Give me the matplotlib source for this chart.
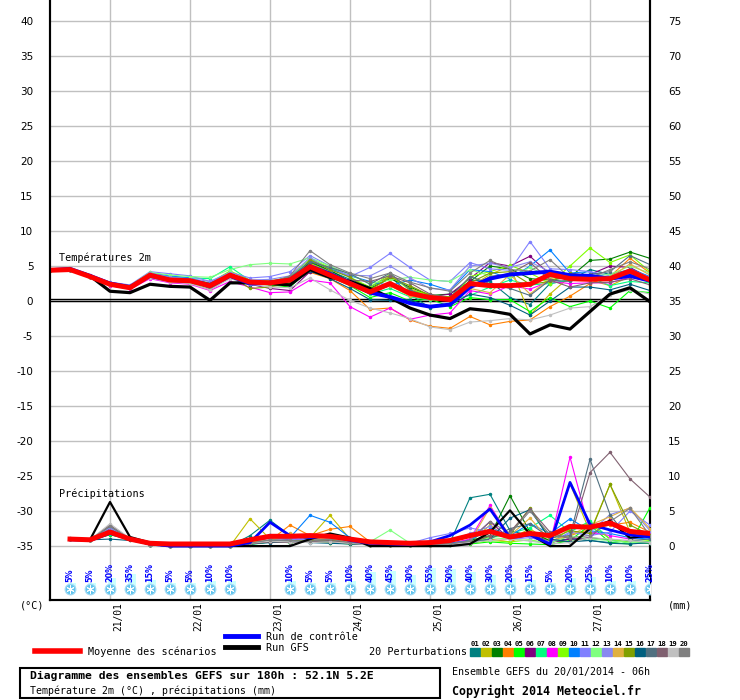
import numpy as np
import pandas as pd
import matplotlib
matplotlib.use('Agg')
import matplotlib.pyplot as plt
import matplotlib.transforms as mtransforms
from matplotlib.patches import Rectangle
from matplotlib.lines import Line2D

plt.rcParams['axes.unicode_minus'] = False

# echeances toutes les 6h depuis le 20/01/2014 06h
times = pd.date_range('2014-01-20 06:00', periods=31, freq='6h')
day_ticks = pd.date_range('2014-01-21', '2014-01-27', freq='D')
day_labels = ['21/01', '22/01', '23/01', '24/01', '25/01', '26/01', '27/01']

# temperatures 2m (°C)
temp_mean = [4.4, 4.5, 3.5, 2.4, 1.9, 3.7, 3.0, 2.9, 2.2, 3.7, 2.7, 2.6, 3.0, 4.9, 3.7,
             2.5, 1.3, 2.5, 1.1, 0.5, 0.2, 2.5, 2.2, 2.2, 2.4, 3.8, 3.2, 3.1, 3.2, 4.3, 3.0]
temp_gfs = [4.4, 4.5, 3.6, 1.4, 1.2, 2.4, 2.1, 2.0, 0.1, 2.6, 2.6, 2.5, 2.3, 4.5, 3.4,
            2.8, 1.8, 0.5, -1.0, -2.0, -2.5, -1.1, -1.4, -1.9, -4.7, -3.4, -4.0, -1.5, 1.0, 1.9, -0.1]
temp_ctrl = [4.4, 4.6, 3.6, 2.5, 2.0, 3.6, 3.0, 2.9, 2.3, 3.6, 2.5, 2.6, 3.0, 5.0, 3.9,
             2.6, 1.2, 0.6, -0.3, -0.8, -0.5, 2.0, 3.2, 3.8, 4.0, 4.2, 3.7, 3.6, 3.2, 3.6, 2.9]

t01 = [4.4, 4.5, 3.6, 2.6, 2.1, 3.9, 3.4, 3.2, 2.5, 3.9, 2.8, 2.4, 2.9, 5.5, 4.3, 3.1, 2.0, 3.5, 1.0, -1.0, -0.5, 3.0, 2.8, 0.5, -0.5, 2.5, 3.0, 4.5, 3.8, 4.5, 3.0]
t02 = [4.3, 4.5, 3.5, 2.3, 2.0, 3.4, 2.8, 2.6, 1.6, 3.4, 2.7, 3.0, 2.9, 5.4, 4.2, 2.6, 1.6, 3.6, 1.8, 0.6, 0.6, 2.0, 3.8, 5.0, -2.0, 1.0, 3.5, 3.0, 2.2, 3.5, 3.3]
t03 = [4.4, 4.5, 3.4, 2.4, 2.0, 3.6, 3.1, 2.8, 2.0, 3.8, 2.6, 2.4, 2.6, 5.6, 4.4, 2.8, 1.8, 3.2, 2.0, 0.8, 1.0, 2.8, 5.0, 4.6, 3.2, 3.0, 3.4, 5.8, 6.0, 7.0, 6.1]
t04 = [4.4, 4.4, 3.4, 2.2, 1.8, 3.5, 2.9, 2.7, 2.1, 3.4, 2.8, 2.6, 2.6, 4.1, 3.2, 1.5, -1.2, -1.0, -2.7, -3.6, -3.9, -2.2, -3.4, -2.9, -2.7, -0.8, 0.7, 2.5, 3.5, 6.1, 4.0]
t05 = [4.4, 4.5, 3.5, 2.5, 2.0, 3.7, 3.2, 3.0, 2.3, 4.0, 2.5, 2.3, 2.0, 4.6, 3.5, 2.2, 0.5, 1.2, 0.0, 0.3, -0.8, 0.5, 0.2, 0.2, -1.5, 0.5, -0.8, 0.0, -1.0, 1.5, 1.2]
t06 = [4.4, 4.5, 3.5, 2.3, 1.9, 3.6, 2.9, 2.8, 1.8, 3.3, 2.4, 1.8, 1.5, 4.2, 3.5, 2.4, 1.2, 2.2, 1.5, 0.6, 1.0, 3.2, 5.5, 5.0, 6.4, 3.8, 3.2, 3.8, 5.0, 4.8, 3.3]
t07 = [4.4, 4.5, 3.6, 2.5, 2.1, 3.8, 3.5, 3.3, 3.2, 4.9, 2.9, 2.8, 3.0, 4.8, 4.0, 2.5, 1.0, 1.8, 0.6, 0.2, 0.2, 0.8, 2.0, 3.0, 2.3, 2.5, 3.0, 3.4, 2.2, 2.8, 2.6]
t08 = [4.4, 4.4, 3.4, 2.2, 1.7, 3.2, 2.6, 2.4, 1.5, 2.8, 2.0, 1.2, 1.3, 3.0, 2.6, -0.8, -2.3, -1.0, -2.6, -2.0, -1.7, 1.5, 1.0, 2.2, 1.7, 2.8, 2.5, 2.6, 2.6, 3.4, 2.8]
t09 = [4.4, 4.5, 3.5, 2.4, 2.0, 3.8, 3.3, 3.1, 2.6, 4.3, 3.0, 2.8, 3.5, 6.0, 4.8, 3.4, 2.0, 3.8, 1.5, 1.0, 0.0, 3.5, 4.2, 5.1, 4.0, 2.5, 5.0, 7.6, 5.5, 6.6, 4.2]
t10 = [4.4, 4.5, 3.6, 2.5, 2.1, 4.0, 3.6, 3.3, 2.4, 3.9, 2.9, 2.7, 3.2, 5.8, 4.6, 3.6, 2.8, 2.2, 3.0, 2.4, 1.5, 4.5, 4.2, 3.2, 5.0, 7.3, 4.0, 4.2, 3.2, 4.6, 3.5]
t11 = [4.4, 4.6, 3.7, 2.7, 2.3, 4.2, 3.9, 3.6, 2.8, 4.1, 3.3, 3.5, 4.2, 6.5, 5.0, 3.5, 4.8, 6.8, 4.8, 3.0, 2.8, 5.5, 4.6, 4.4, 8.5, 4.6, 4.5, 4.2, 3.6, 4.5, 3.4]
t12 = [4.4, 4.5, 3.6, 2.6, 2.2, 4.1, 3.7, 3.5, 3.4, 4.5, 5.2, 5.4, 5.3, 6.2, 5.0, 3.8, 2.5, 3.0, 3.4, 3.0, 2.8, 4.5, 3.6, 3.4, 4.8, 3.4, 3.6, 3.6, 3.8, 5.0, 4.0]
t13 = [4.4, 4.5, 3.6, 2.6, 2.1, 4.0, 3.4, 3.2, 2.8, 3.6, 3.0, 3.1, 3.6, 6.2, 4.4, 3.7, 3.6, 5.0, 3.3, 1.8, 1.6, 5.0, 5.4, 4.8, 5.6, 4.2, 3.5, 3.0, 3.0, 3.6, 3.2]
t14 = [4.4, 4.5, 3.5, 2.4, 2.0, 3.5, 2.9, 2.8, 2.0, 3.5, 2.5, 2.4, 2.7, 4.4, 3.4, 2.3, 1.4, 2.2, 0.7, 0.3, 0.2, 1.8, 1.2, 3.8, 1.0, 3.2, 3.7, 3.3, 3.4, 5.3, 3.7]
t15 = [4.4, 4.5, 3.5, 2.3, 1.9, 3.6, 3.0, 2.9, 2.3, 3.6, 1.8, 2.0, 2.6, 5.9, 4.5, 3.4, 1.6, 3.4, 2.2, 0.8, 0.6, 2.6, 4.0, 4.2, 2.4, 2.8, 4.0, 3.6, 3.0, 4.0, 3.2]
t16 = [4.4, 4.5, 3.5, 2.4, 1.9, 3.5, 2.8, 2.6, 2.0, 3.6, 2.3, 2.6, 2.2, 4.3, 3.2, 1.8, 0.2, 0.1, 0.2, -0.8, -0.6, 1.0, 0.5, -0.6, -2.0, 0.0, 2.0, 2.0, 1.6, 2.4, 1.5]
t17 = [4.4, 4.5, 3.5, 2.4, 2.0, 3.6, 3.0, 2.9, 2.1, 3.8, 2.7, 2.8, 3.4, 5.6, 4.8, 3.9, 2.4, 4.0, 1.6, 0.5, 0.5, 3.5, 2.5, 1.8, 0.8, 3.0, 2.8, 3.8, 4.2, 6.5, 5.2]
t18 = [4.4, 4.5, 3.5, 2.5, 2.0, 3.5, 3.0, 2.7, 1.9, 3.4, 2.5, 2.7, 3.0, 4.5, 3.6, 3.0, 2.8, 3.6, 2.6, 1.0, 0.4, 2.0, 3.5, 3.9, 5.5, 3.0, 2.0, 2.6, 2.7, 3.2, 2.3]
t19 = [4.4, 4.5, 3.5, 2.3, 1.9, 3.3, 2.7, 2.5, 1.6, 3.2, 2.4, 2.0, 1.9, 3.3, 1.6, 0.1, -1.0, -1.7, -2.5, -3.7, -4.1, -3.0, -2.8, -2.5, -2.7, -2.0, -1.0, -0.8, 0.9, 1.6, 1.0]
t20 = [4.4, 4.5, 3.5, 2.4, 2.0, 3.7, 3.2, 3.0, 2.4, 3.7, 2.8, 2.6, 3.6, 7.2, 5.2, 4.0, 3.2, 4.0, 2.7, 1.9, 1.4, 4.0, 5.8, 4.5, 4.3, 5.9, 3.3, 3.3, 4.5, 5.6, 4.6]

# precipitations sur 6h (mm), de l'echeance +6h a +180h
prec_mean = [1.0, 0.9, 2.0, 1.0, 0.4, 0.3, 0.3, 0.3, 0.3, 0.9, 1.4, 1.4, 1.5, 1.4, 1.0,
             0.6, 0.5, 0.4, 0.5, 0.8, 1.5, 2.1, 1.3, 1.8, 1.5, 2.8, 2.7, 3.3, 2.1, 1.8]
prec_gfs = [0.9, 0.9, 6.3, 1.3, 0.5, 0.0, 0.0, 0.0, 0.0, 0.0, 0.0, 0.0, 1.0, 1.8, 1.2,
            0.0, 0.0, 0.0, 0.0, 0.0, 0.3, 2.0, 5.1, 1.7, 0.0, 0.0, 2.5, 3.6, 1.2, 1.5]
prec_ctrl = [0.9, 0.8, 1.8, 1.0, 0.3, 0.0, 0.0, 0.0, 0.0, 0.5, 3.4, 1.5, 1.2, 1.5, 0.8,
             0.4, 0.3, 0.2, 0.6, 1.5, 3.0, 5.3, 1.2, 1.6, 0.3, 9.1, 3.1, 2.3, 1.6, 1.3]

p01 = [1.2, 0.8, 1.8, 1.1, 0.2, 0, 0, 0, 0, 1.5, 3.7, 1.5, 0.6, 0.8, 0.5, 0.3, 0.2, 0.1, 0.3, 0.5, 6.9, 7.4, 2.2, 1.5, 0.8, 1.0, 0.8, 0.5, 0.8, 0.6]
p02 = [1.0, 0.9, 2.5, 1.0, 0.2, 0, 0, 0, 0, 3.9, 1.0, 0.6, 1.2, 4.4, 1.0, 0.2, 0.1, 0.2, 0.3, 0.4, 0.5, 3.0, 1.0, 2.5, 0.5, 8.9, 2.0, 8.8, 2.0, 1.2]
p03 = [1.0, 0.9, 2.2, 1.0, 0.2, 0, 0, 0, 0, 0.5, 1.2, 1.0, 0.8, 0.6, 0.4, 0.2, 0.2, 0.1, 0.2, 0.3, 0.8, 1.5, 7.2, 2.0, 0.8, 0.6, 1.2, 0.9, 0.5, 0.4]
p04 = [1.0, 0.9, 1.9, 0.9, 0.2, 0, 0, 0, 0, 0.4, 0.8, 3.0, 1.5, 2.4, 2.8, 0.6, 0.4, 0.2, 0.2, 0.3, 0.5, 1.0, 0.6, 1.8, 0.4, 1.5, 2.4, 3.0, 3.4, 2.0]
p05 = [1.0, 0.9, 1.6, 1.0, 0.2, 0, 0, 0, 0, 0.3, 0.6, 0.5, 0.6, 0.5, 0.3, 0.2, 0.1, 0.1, 0.1, 0.2, 0.3, 0.6, 0.4, 0.3, 0.2, 0.8, 3.0, 0.5, 0.3, 5.5]
p06 = [1.0, 0.9, 2.4, 1.1, 0.2, 0, 0, 0, 0, 0.4, 0.8, 0.9, 1.0, 0.6, 0.4, 0.2, 0.1, 0.2, 0.2, 0.4, 0.9, 3.5, 1.0, 1.8, 0.5, 1.0, 1.2, 3.8, 1.0, 1.4]
p07 = [1.0, 0.9, 1.7, 1.0, 0.2, 0, 0, 0, 0, 0.2, 0.6, 0.5, 0.8, 1.0, 0.6, 0.4, 0.3, 0.2, 0.2, 0.3, 0.6, 1.2, 1.8, 2.6, 4.4, 2.0, 3.6, 1.0, 0.4, 0.5]
p08 = [1.0, 0.9, 2.0, 1.0, 0.2, 0, 0, 0, 0, 0.6, 1.5, 1.2, 0.8, 0.9, 0.6, 0.3, 0.2, 0.2, 0.2, 0.3, 1.0, 5.8, 1.2, 1.4, 0.3, 12.7, 2.0, 1.5, 1.0, 1.8]
p09 = [1.0, 0.9, 2.1, 1.0, 0.2, 0, 0, 0, 0, 0.4, 0.8, 0.6, 0.7, 0.5, 0.4, 0.2, 0.2, 0.1, 0.2, 0.3, 0.4, 0.8, 0.6, 0.9, 0.3, 2.5, 3.2, 1.0, 0.5, 0.8]
p10 = [1.0, 0.9, 1.9, 1.0, 0.2, 0, 0, 0, 0, 0.8, 1.6, 1.2, 4.4, 3.4, 1.2, 0.5, 0.3, 0.2, 0.3, 0.4, 0.8, 2.5, 1.5, 3.2, 1.8, 3.9, 2.2, 1.8, 1.2, 1.0]
p11 = [1.0, 0.9, 2.3, 1.0, 0.2, 0, 0, 0, 0, 0.5, 1.2, 1.0, 0.9, 0.8, 1.0, 0.6, 0.5, 0.4, 1.2, 1.8, 2.6, 2.0, 1.0, 1.2, 0.5, 2.0, 1.5, 2.0, 5.0, 3.0]
p12 = [1.0, 0.9, 2.2, 1.0, 0.2, 0, 0, 0, 0, 0.3, 0.7, 0.8, 0.6, 0.8, 0.5, 0.6, 2.3, 0.4, 0.2, 0.3, 0.4, 1.2, 1.0, 0.8, 0.4, 1.5, 1.0, 0.8, 0.5, 0.6]
p13 = [1.0, 0.9, 2.6, 1.0, 0.2, 0, 0, 0, 0, 0.4, 0.9, 0.8, 1.5, 1.0, 0.6, 0.4, 0.3, 0.2, 0.3, 0.8, 1.8, 2.8, 1.3, 1.5, 0.6, 1.8, 2.0, 4.5, 5.4, 2.2]
p14 = [1.0, 0.9, 2.0, 1.0, 0.2, 0, 0, 0, 0, 0.6, 0.8, 1.8, 1.0, 1.2, 0.5, 0.3, 0.2, 0.2, 0.2, 0.3, 0.6, 5.5, 1.5, 4.0, 0.8, 1.5, 3.0, 4.2, 5.5, 2.5]
p15 = [1.0, 0.9, 2.1, 1.0, 0.2, 0, 0, 0, 0, 0.3, 0.6, 0.7, 0.8, 0.9, 0.4, 0.2, 0.2, 0.1, 0.2, 0.3, 0.5, 1.4, 1.6, 5.5, 1.0, 2.2, 1.8, 8.8, 3.0, 1.6]
p16 = [1.0, 0.9, 1.0, 0.8, 0.2, 0, 0, 0, 0, 0.3, 0.5, 0.6, 0.5, 0.4, 0.3, 0.2, 0.1, 0.1, 0.1, 0.2, 0.4, 1.0, 4.0, 5.2, 1.0, 0.6, 0.8, 0.4, 0.3, 0.5]
p17 = [1.0, 0.9, 2.8, 1.0, 0.2, 0, 0, 0, 0, 0.4, 0.8, 0.7, 0.6, 0.6, 0.4, 0.2, 0.2, 0.2, 0.2, 0.3, 0.6, 1.0, 2.5, 3.2, 1.2, 1.5, 12.4, 4.5, 0.8, 1.0]
p18 = [1.0, 0.9, 3.0, 1.0, 0.2, 0, 0, 0, 0, 0.3, 0.6, 0.5, 0.6, 0.8, 0.4, 0.2, 0.2, 0.2, 0.2, 0.3, 0.5, 1.5, 2.0, 5.3, 2.0, 1.0, 10.5, 13.4, 9.6, 7.0]
p19 = [1.0, 0.9, 3.2, 1.1, 0.2, 0, 0, 0, 0, 0.4, 0.7, 0.6, 0.5, 0.6, 0.4, 0.2, 0.2, 0.1, 0.1, 0.2, 0.5, 0.8, 1.0, 0.7, 0.3, 0.5, 1.2, 1.0, 0.8, 0.5]
p20 = [1.0, 0.9, 2.9, 1.0, 0.2, 0, 0, 0, 0, 0.4, 0.9, 0.8, 0.7, 1.0, 0.5, 0.3, 0.3, 0.2, 0.2, 0.3, 0.8, 3.5, 1.8, 5.0, 1.6, 1.2, 1.5, 3.5, 5.4, 1.5]

# probabilite de neige (%), None = pas d'icone
snow_pct = [5, 5, 20, 35, 15, 5, 5, 10, 10, None, None, 10, 5, 5, 10,
            40, 45, 30, 55, 50, 40, 30, 20, 15, 5, 20, 25, 10, 10, 25]

member_colors = ['#008080', '#c0c000', '#008000', '#ff8000', '#00ff00', '#800080', '#00ff80',
                 '#ff00ff', '#80ff00', '#0080ff', '#8080ff', '#80ff80', '#8888f0', '#e0b040',
                 '#80a000', '#006080', '#507080', '#806070', '#c0c0c0', '#808080']
member_temps = [t01, t02, t03, t04, t05, t06, t07, t08, t09, t10,
                t11, t12, t13, t14, t15, t16, t17, t18, t19, t20]
member_precs = [p01, p02, p03, p04, p05, p06, p07, p08, p09, p10,
                p11, p12, p13, p14, p15, p16, p17, p18, p19, p20]

W, H = 740, 700
mono = 'DejaVu Sans Mono'


def fx(x):
    return x / W


def fy(y):
    return 1 - y / H


def py(y):
    # pixel vertical -> valeur sur l'axe des precipitations
    return 78 - y / 7


fig = plt.figure(figsize=(7.4, 7.0), dpi=100)
ax = fig.add_axes([fx(50), 100 / H, 600 / W, 600 / H])
ax.set_xlim(times[0], times[-1])
ax.set_ylim(-42.7, 43)
ax.set_yticks(range(-35, 41, 5))
ax.set_xticks(day_ticks)
ax.set_xticklabels(day_labels, rotation=90, family=mono, fontsize=6.9)
ax.grid(color='#c0c0c0', lw=1)
ax.set_axisbelow(True)
ax.tick_params(axis='y', length=0, pad=12, labelsize=7.5)
ax.tick_params(axis='x', length=0, pad=1.5)
for lbl in ax.get_xticklabels():
    lbl.set_transform(lbl.get_transform() + mtransforms.ScaledTranslation(0.08, 0, fig.dpi_scale_trans))

ax2 = ax.twinx()
ax2.set_ylim(-7.7, 78)
ax2.set_yticks(range(0, 76, 5))
ax2.tick_params(axis='y', length=0, pad=13, labelsize=7.5)

for a in (ax, ax2):
    a.spines['top'].set_visible(False)
    for s in ('left', 'right', 'bottom'):
        a.spines[s].set_linewidth(1.5)
        a.spines[s].set_color('black')

ax.axhline(0, color='black', lw=1, zorder=2)
ax.axhline(0.29, color='black', lw=1, zorder=2)

# temperatures
for t, c in zip(member_temps, member_colors):
    ax.plot(times, t, color=c, lw=0.8, marker='o', ms=1.5, zorder=3)
ax.plot(times, temp_gfs, color='black', lw=2.3, zorder=4)
ax.plot(times, temp_ctrl, color='#0000ff', lw=2.8, zorder=5)
ax.plot(times, temp_mean, color='#ff0000', lw=3.6, zorder=6)

# precipitations
ptimes = times[1:]
for p, c in zip(member_precs, member_colors):
    ax2.plot(ptimes, p, color=c, lw=0.8, marker='o', ms=1.5, zorder=3)
ax2.plot(ptimes, prec_gfs, color='black', lw=1.6, zorder=4)
ax2.plot(ptimes, prec_ctrl, color='#0000ff', lw=2.0, zorder=5)
ax2.plot(ptimes, prec_mean, color='#ff0000', lw=3.6, zorder=6)

fig.text(fx(59), fy(258), 'Températures 2m', family=mono, fontsize=7.3, va='center')
fig.text(fx(59), fy(494), 'Précipitations', family=mono, fontsize=7.3, va='center')

# icones neige
snow_t = [ptimes[i] for i, s in enumerate(snow_pct) if s is not None]
snow_v = [s for s in snow_pct if s is not None]
ax2.bar([t - pd.Timedelta(minutes=30) for t in snow_t], [(4 + 0.3 * s) / 7 for s in snow_v],
        bottom=py(588), width=0.1, align='edge', color='#ccffff', zorder=6)
ax2.scatter(snow_t, [py(589)] * len(snow_t), s=60, color='#60c4ee',
            edgecolor='#a8dcf4', lw=0.8, zorder=7)
ax2.scatter(snow_t, [py(589)] * len(snow_t), s=28, marker=(6, 2, 0),
            color='white', lw=0.7, zorder=8)
for t, s in zip(snow_t, snow_v):
    ax2.text(t, py(582), f'{s}%', rotation=90, ha='center', va='bottom',
             fontsize=5.8, fontweight='bold', color='#0000ff', zorder=9)

fig.text(fx(32), fy(606), '(°C)', family=mono, fontsize=7.3, ha='center', va='center')
fig.text(fx(668), fy(606), '(mm)', family=mono, fontsize=7.3, va='center')

# legende
fig.add_artist(Line2D([fx(35), fx(80)], [fy(651)] * 2, color='#ff0000', lw=4))
fig.text(fx(88), fy(652), 'Moyenne des scénarios', family=mono, fontsize=7.3, va='center')
fig.add_artist(Line2D([fx(225), fx(258)], [fy(636)] * 2, color='#0000ff', lw=3.5))
fig.text(fx(266), fy(637), 'Run de contrôle', family=mono, fontsize=7.3, va='center')
fig.add_artist(Line2D([fx(225), fx(258)], [fy(647)] * 2, color='black', lw=3.5))
fig.text(fx(266), fy(648), 'Run GFS', family=mono, fontsize=7.3, va='center')
fig.text(fx(467), fy(652), '20 Perturbations', family=mono, fontsize=7.3, ha='right', va='center')
for i, c in enumerate(member_colors):
    x0 = 470 + i * 11
    fig.patches.append(Rectangle((fx(x0), fy(656)), 10 / W, 8 / H, color=c,
                                 transform=fig.transFigure, figure=fig))
    fig.text(fx(x0 + 5), fy(644), f'{i + 1:02d}', family=mono, fontsize=5.2,
             fontweight='bold', ha='center', va='center')

fig.patches.append(Rectangle((fx(20), fy(698)), 420 / W, 30 / H, fill=False, ec='black',
                             lw=1.5, transform=fig.transFigure, figure=fig))
fig.text(fx(30), fy(676), 'Diagramme des ensembles GEFS sur 180h : 52.1N 5.2E',
         family=mono, fontsize=8.2, fontweight='bold', va='center')
fig.text(fx(30), fy(691), 'Température 2m (°C) , précipitations (mm)',
         family=mono, fontsize=7.1, va='center')
fig.text(fx(452), fy(672), 'Ensemble GEFS du 20/01/2014 - 06h', family=mono,
         fontsize=7.2, va='center')
fig.text(fx(452), fy(691), 'Copyright 2014 Meteociel.fr', family=mono, fontsize=8.4,
         fontweight='bold', va='center')

fig.savefig('out.png', dpi=100)
